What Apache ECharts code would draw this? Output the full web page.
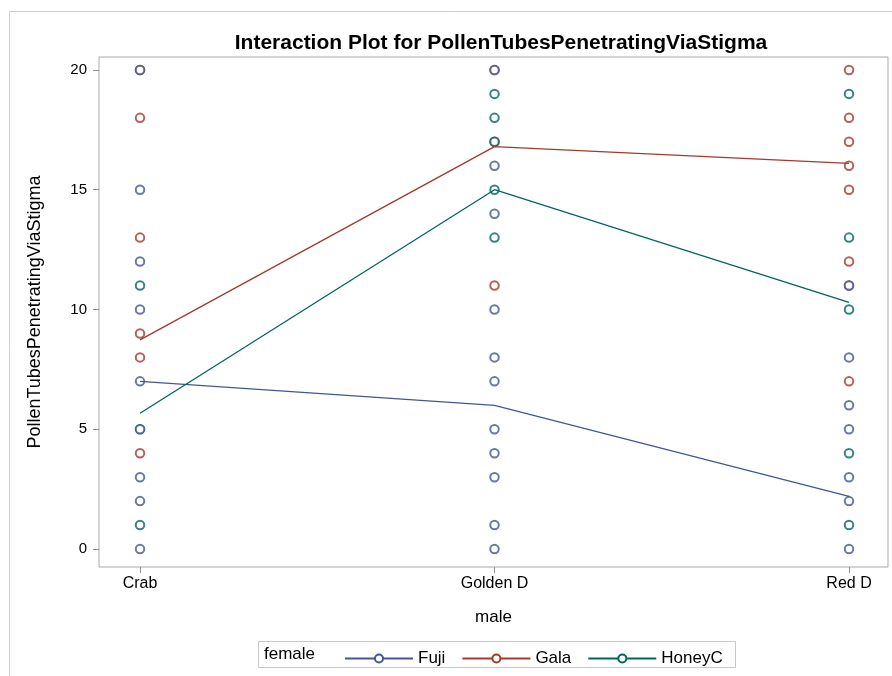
<!DOCTYPE html>
<html>
<head>
<meta charset="utf-8">
<script src="https://cdn.jsdelivr.net/npm/echarts@6/dist/echarts.min.js"></script>
<style>
html,body{margin:0;padding:0;background:#fff;}
#chart{width:892px;height:676px;}
</style>
</head>
<body>
<div id="chart"></div>
<script>
// categories of the x axis (male)
var categories = ['Crab', 'Golden D', 'Red D'];
// y tick labels
var yTicks = [0, 5, 10, 15, 20];
// group means (lines)
var fujiMeans = [7.0, 6.0, 2.2];
var galaMeans = [8.73, 16.8, 16.1];
var honeyMeans = [5.67, 15.0, 10.3];
// observed values, per male category
var fujiObs = [
  [20, 15, 12, 10, 7, 5, 3, 2, 0],
  [20, 16, 14, 10, 8, 7, 5, 4, 3, 1, 0],
  [11, 8, 6, 5, 3, 2, 0]
];
var galaObs = [
  [20, 18, 13, 9, 8, 4],
  [20, 17, 11],
  [20, 18, 17, 16, 15, 12, 11, 7]
];
var honeyObs = [
  [11, 5, 1],
  [19, 18, 17, 15, 13],
  [19, 13, 10, 4, 1]
];
var seriesNames = ['Fuji', 'Gala', 'HoneyC'];
var colors = ['#445694', '#A23A2E', '#01665E'];

function meanData(arr) { return arr.map(function (v, i) { return [i, v]; }); }
function obsData(groups) {
  var out = [];
  groups.forEach(function (g, i) { g.forEach(function (v) { out.push([i, v]); }); });
  return out;
}
var meansAll = [fujiMeans, galaMeans, honeyMeans];
var obsAll = [fujiObs, galaObs, honeyObs];

var series = [];
seriesNames.forEach(function (n, k) {
  series.push({
    name: n, type: 'line', data: meanData(meansAll[k]),
    symbol: 'emptyCircle', showSymbol: false, z: 5,
    lineStyle: { color: colors[k], width: 1.3 },
    itemStyle: { color: colors[k], borderWidth: 1.5 },
    emphasis: { disabled: true }, silent: true
  });
});
// draw order: Gala, HoneyC, Fuji (Fuji on top)
[1, 2, 0].forEach(function (k) {
  series.push({
    name: seriesNames[k], type: 'scatter', data: obsData(obsAll[k]),
    symbol: 'emptyCircle', symbolSize: 8.5, z: 2,
    itemStyle: { color: colors[k], borderWidth: 1.7 },
    emphasis: { disabled: true }, silent: true
  });
});

var font = 'Liberation Sans, Arial, sans-serif';
var chart = echarts.init(document.getElementById('chart'), null, { renderer: 'canvas' });
chart.setOption({
  animation: false,
  backgroundColor: '#fff',
  textStyle: { fontFamily: font },
  title: {
    text: 'Interaction Plot for PollenTubesPenetratingViaStigma',
    left: 496, top: 28, textAlign: 'center',
    textStyle: { fontFamily: font, fontWeight: 'bold', fontSize: 21, color: '#000' }
  },
  graphic: [
    { type: 'rect', shape: { x: 9.5, y: 11.5, width: 900, height: 700 },
      style: { fill: 'none', stroke: '#cfcfcf', lineWidth: 1 }, silent: true, z: 0 },
    { type: 'rect', shape: { x: 258.5, y: 641.5, width: 477, height: 26 },
      style: { fill: 'none', stroke: '#c8c8c8', lineWidth: 1 }, silent: true },
    { type: 'text', left: 264, top: 646,
      style: { text: 'female', fontFamily: font, fontSize: 17, fill: '#000' }, silent: true }
  ],
  legend: {
    data: seriesNames,
    left: 339, top: 645, itemWidth: 68, itemHeight: 10, itemGap: 16,
    textStyle: { fontFamily: font, fontSize: 17, color: '#000' },
    selectedMode: false
  },
  grid: { left: 99, top: 57, width: 789, height: 510, show: true, borderColor: '#a8a8a8', borderWidth: 1, backgroundColor: 'transparent', containLabel: false },
  xAxis: {
    type: 'value', min: -0.1157, max: 2.11,
    name: 'male', nameLocation: 'middle', nameGap: 42,
    nameTextStyle: { fontFamily: font, fontSize: 17, color: '#000' },
    axisLine: { show: false, onZero: false },
    splitLine: { show: false },
    axisTick: { show: true, customValues: [0, 1, 2], length: 6, lineStyle: { color: '#909090' } },
    axisLabel: { customValues: [0, 1, 2], margin: 9, fontSize: 16, color: '#000',
      formatter: function (v) { return categories[Math.round(v)]; } }
  },
  yAxis: {
    type: 'value', min: -0.75, max: 20.54,
    name: 'PollenTubesPenetratingViaStigma', nameLocation: 'middle', nameGap: 55, nameRotate: 90,
    nameTextStyle: { fontFamily: font, fontSize: 18, color: '#000' },
    axisLine: { show: false, onZero: false },
    splitLine: { show: false },
    axisTick: { show: true, customValues: yTicks, length: 6, lineStyle: { color: '#909090' } },
    axisLabel: { customValues: yTicks, margin: 12, fontSize: 15, color: '#000' }
  },
  series: series
});
</script>
</body>
</html>
